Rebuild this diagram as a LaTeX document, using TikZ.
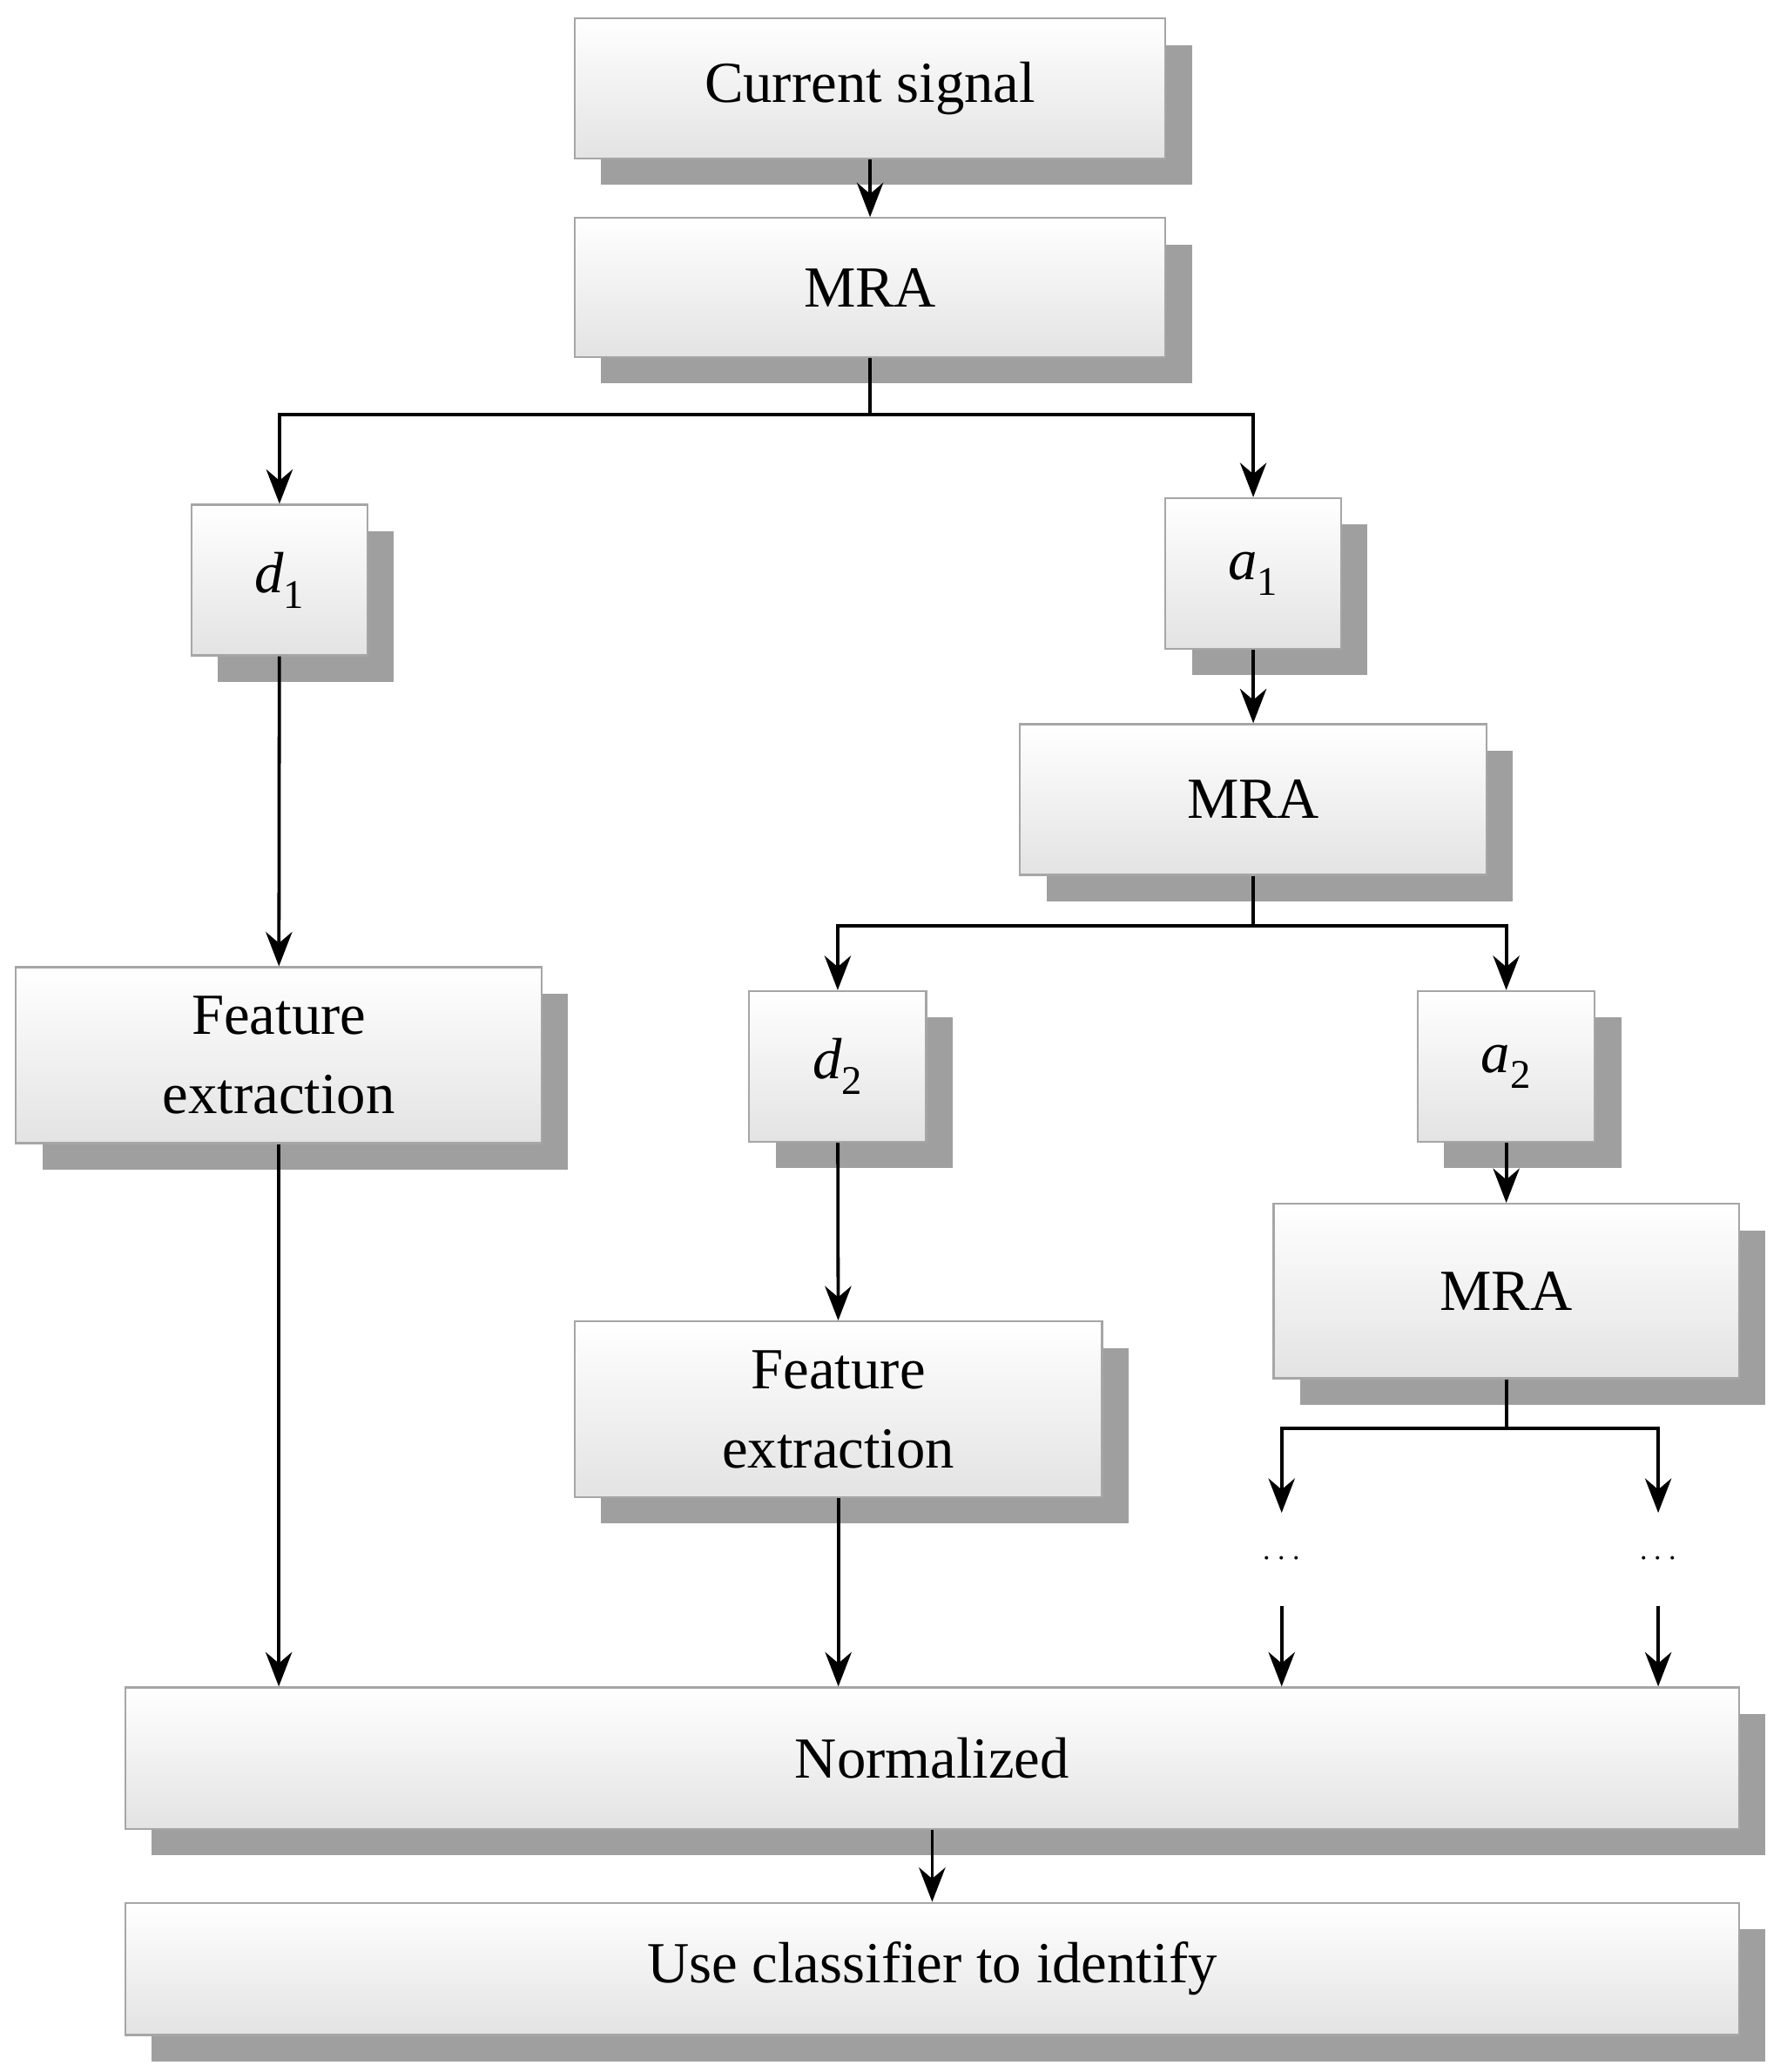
\documentclass[tikz,border=0pt]{standalone}
\usepackage{fontspec}
\setmainfont{Liberation Serif}
\usetikzlibrary{shadows,arrows.meta}
\begin{document}
\begin{tikzpicture}[x=1pt,y=-1pt,
  box/.style={draw=gray!70,line width=1.5pt,top color=white,bottom color=gray!22,
    drop shadow={shadow xshift=20pt,shadow yshift=-20pt,fill=gray!75,opacity=1},
    align=center,font=\fontsize{44}{60}\selectfont,inner sep=0pt},
  arr/.style={line width=2.5pt,-{Stealth[length=26pt,width=20pt]}},
  ln/.style={line width=2.5pt},
  dts/.style={minimum height=70pt,inner sep=0pt,font=\fontsize{44}{50}\selectfont}]
\useasboundingbox (0,0) rectangle (1352,1568);
\node[box,minimum width=447pt,minimum height=106pt] (cs) at (658.5,67) {Current signal};
\node[box,minimum width=447pt,minimum height=105pt] (m1) at (658.5,217.5) {MRA};
\node[box,minimum width=133pt,minimum height=114pt] (d1) at (211.5,439) {\textit{d}\textsubscript{1}};
\node[box,minimum width=133pt,minimum height=114pt] (a1) at (948.5,434) {\textit{a}\textsubscript{1}};
\node[box,minimum width=353pt,minimum height=114pt] (m2) at (948.5,605) {MRA};
\node[box,minimum width=398pt,minimum height=133pt] (fe1) at (211,798.5) {Feature\\extraction};
\node[box,minimum width=134pt,minimum height=114pt] (d2) at (634,807) {\textit{d}\textsubscript{2}};
\node[box,minimum width=134pt,minimum height=114pt] (a2) at (1140,807) {\textit{a}\textsubscript{2}};
\node[box,minimum width=352pt,minimum height=132pt] (m3) at (1140,977) {MRA};
\node[box,minimum width=399pt,minimum height=133pt] (fe2) at (634.5,1066.5) {Feature\\extraction};
\node[box,minimum width=1221pt,minimum height=107pt] (no) at (705.5,1330.5) {Normalized};
\node[box,minimum width=1221pt,minimum height=100pt] (uc) at (705.5,1490) {Use classifier to identify};
\node[dts] (dA) at (970,1180) {$\cdots$};
\node[dts] (dB) at (1255,1180) {$\cdots$};
\draw[arr] (cs) -- (m1);
\draw[arr] (m1.south) -- ++(0,43) -| (d1.north);
\draw[arr] (m1.south) -- ++(0,43) -| (a1.north);
\draw[arr] (d1) -- (fe1);
\draw[arr] (fe1.south) -- (fe1.south |- no.north);
\draw[arr] (a1) -- (m2);
\draw[arr] (m2.south) -- ++(0,38) -| (d2.north);
\draw[arr] (m2.south) -- ++(0,38) -| (a2.north);
\draw[arr] (d2) -- (fe2);
\draw[arr] (fe2.south) -- (fe2.south |- no.north);
\draw[arr] (a2) -- (m3);
\draw[arr] (m3.south) -- ++(0,37) -| (dA.north);
\draw[arr] (m3.south) -- ++(0,37) -| (dB.north);
\draw[arr] (dA.south) -- (dA.south |- no.north);
\draw[arr] (dB.south) -- (dB.south |- no.north);
\draw[arr] (no) -- (uc);
\end{tikzpicture}
\end{document}
